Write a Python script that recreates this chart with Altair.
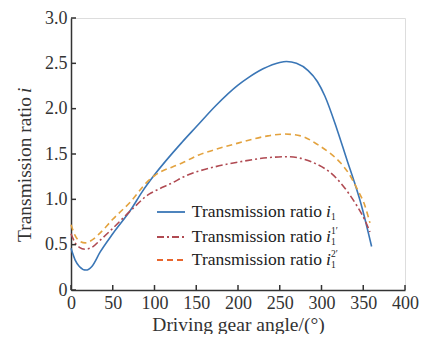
import altair as alt
import pandas as pd

# ---- data ----
blue_angle = [0, 5, 10, 18, 25, 35, 50, 72, 85, 100, 133, 150, 173, 200, 212, 230, 250, 258, 270, 284, 295, 304, 319, 331, 339, 347, 360]
blue_ratio = [0.46, 0.33, 0.26, 0.22, 0.26, 0.42, 0.62, 0.89, 1.08, 1.27, 1.63, 1.80, 2.03, 2.26, 2.34, 2.44, 2.51, 2.52, 2.50, 2.42, 2.30, 2.14, 1.76, 1.42, 1.20, 0.96, 0.48]

red_angle = [0, 5, 10, 17, 25, 35, 50, 72, 94, 100, 123, 133, 173, 200, 236, 260, 280, 296, 310, 323, 333, 343, 352, 358]
red_ratio = [0.62, 0.52, 0.47, 0.45, 0.47, 0.55, 0.68, 0.88, 1.06, 1.09, 1.19, 1.24, 1.36, 1.41, 1.46, 1.47, 1.44, 1.38, 1.30, 1.18, 1.06, 0.92, 0.77, 0.64]

orange_angle = [0, 5, 10, 17, 25, 35, 50, 72, 91, 100, 133, 153, 173, 200, 236, 256, 275, 296, 310, 323, 333, 343, 352, 358]
orange_ratio = [0.72, 0.60, 0.54, 0.52, 0.55, 0.63, 0.78, 0.98, 1.19, 1.26, 1.40, 1.49, 1.55, 1.62, 1.70, 1.72, 1.70, 1.60, 1.51, 1.40, 1.28, 1.11, 0.93, 0.74]

x_ticks = [0, 50, 100, 150, 200, 250, 300, 350, 400]
y_ticks = [0, 0.5, 1.0, 1.5, 2.0, 2.5, 3.0]

legend_text = "Transmission ratio"
legend_sup = ["", "1\u2032", "2\u2032"]

FONT = "Liberation Serif"
AX = "#333333"
BLUE = "#3a76b6"
RED = "#b04a52"
ORANGE = "#e3a23e"
ORANGE_LEG = "#e8662e"
LFS = 18    # tick label font size
TFS = 19.5  # axis title font size

xs = alt.Scale(domain=[0, 400], nice=False)
ys = alt.Scale(domain=[0, 3], nice=False)

x_axis = alt.Axis(values=x_ticks, ticks=False, grid=False, labelFont=FONT, labelFontSize=LFS,
                  labelColor=AX, domainColor=AX, domainWidth=1.5, labelPadding=4,
                  labelFlush=False, labelOverlap=False,
                  title="Driving gear angle/(\u00b0)", titleFont=FONT, titleFontSize=TFS,
                  titleFontWeight="normal", titleColor=AX, titlePadding=3)
y_axis = alt.Axis(values=y_ticks, ticks=False, grid=False, labelFont=FONT, labelFontSize=LFS,
                  labelColor=AX, domainColor=AX, domainWidth=1.5, labelPadding=4,
                  labelFlush=False, labelOverlap=False,
                  labelExpr="datum.value == 0 ? '0' : format(datum.value, '.1f')",
                  title=None)


def series(a, r, color, dash):
    df = pd.DataFrame({"angle": a, "ratio": r})
    enc = dict(
        x=alt.X("angle:Q", scale=xs, axis=x_axis),
        y=alt.Y("ratio:Q", scale=ys, axis=y_axis),
    )
    kw = dict(color=color, strokeWidth=1.6, interpolate="monotone")
    if dash:
        kw["strokeDash"] = dash
    return alt.Chart(df).mark_line(**kw).encode(**enc)


blue = series(blue_angle, blue_ratio, BLUE, None)
red = series(red_angle, red_ratio, RED, [7, 3, 2, 3])
orange = series(orange_angle, orange_ratio, ORANGE, [6, 4])

# inward ticks (drawn as short rules inside the plot)
xt = alt.Chart(pd.DataFrame({"v": x_ticks})).mark_rule(color=AX, strokeWidth=1.5).transform_calculate(
    z0="0", z1="0.055").encode(
    x=alt.X("v:Q", scale=xs), y=alt.Y("z0:Q", scale=ys), y2="z1:Q")
yt = alt.Chart(pd.DataFrame({"v": y_ticks})).mark_rule(color=AX, strokeWidth=1.5).encode(
    y=alt.Y("v:Q", scale=ys), x=alt.value(0), x2=alt.value(5))

# y title with italic i
ytitle_pos_y = 78
ytitle_x = -46
ytitle = alt.Chart(pd.DataFrame({"t": ["Transmission ratio"]})).mark_text(
    font=FONT, fontSize=TFS, angle=270, align="right", baseline="middle", color=AX
).encode(text="t:N", x=alt.value(ytitle_x), y=alt.value(ytitle_pos_y + 1))
ytitle_i = alt.Chart(pd.DataFrame({"t": ["i"]})).mark_text(
    font=FONT, fontSize=TFS, fontStyle="italic", angle=270, align="left", baseline="middle", color=AX
).encode(text="t:N", x=alt.value(ytitle_x), y=alt.value(ytitle_pos_y - 3))

# manual legend
rows_y = [194, 219, 242]
colors = [BLUE, RED, ORANGE_LEG]
dashes = [None, [7, 3, 2, 3], [6, 4]]
legend_layers = []
text_end = 251
for k in range(3):
    kw = dict(color=colors[k], strokeWidth=1.8)
    if dashes[k]:
        kw["strokeDash"] = dashes[k]
    legend_layers.append(
        alt.Chart(pd.DataFrame({"k": [k]})).mark_rule(**kw).encode(
            x=alt.value(86), x2=alt.value(114), y=alt.value(rows_y[k])))
    legend_layers.append(
        alt.Chart(pd.DataFrame({"t": [legend_text]})).mark_text(
            font=FONT, fontSize=17.5, align="right", baseline="middle", color="#222222"
        ).encode(text="t:N", x=alt.value(text_end), y=alt.value(rows_y[k])))
    legend_layers.append(
        alt.Chart(pd.DataFrame({"t": ["i"]})).mark_text(
            font=FONT, fontSize=17.5, fontStyle="italic", align="left", baseline="middle", color="#222222"
        ).encode(text="t:N", x=alt.value(text_end + 4), y=alt.value(rows_y[k])))
    legend_layers.append(
        alt.Chart(pd.DataFrame({"t": ["1"]})).mark_text(
            font=FONT, fontSize=9.5, align="left", baseline="middle", color="#222222"
        ).encode(text="t:N", x=alt.value(text_end + 9), y=alt.value(rows_y[k] + 5)))
    if legend_sup[k]:
        legend_layers.append(
            alt.Chart(pd.DataFrame({"t": [legend_sup[k]]})).mark_text(
                font=FONT, fontSize=9.5, align="left", baseline="middle", color="#222222"
            ).encode(text="t:N", x=alt.value(text_end + 9), y=alt.value(rows_y[k] - 6)))

chart = alt.layer(blue, red, orange, xt, yt, ytitle, ytitle_i, *legend_layers).properties(
    width=411, height=326,
    autosize=alt.AutoSizeParams(type="fit", contains="padding"),
).configure_view(stroke=None).configure(
    background="white", padding={"left": 7, "top": 1, "right": 0, "bottom": 0})

chart.save("out.html", embed_options={"renderer": "svg", "actions": False})
